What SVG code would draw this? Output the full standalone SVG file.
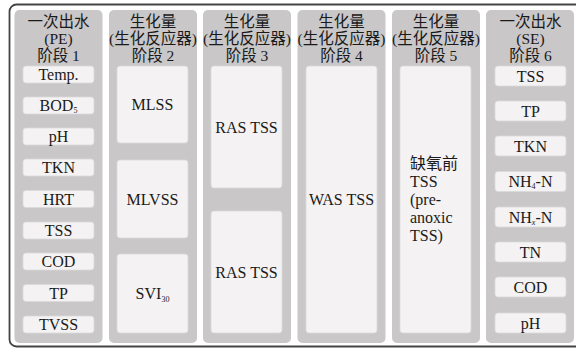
<svg xmlns="http://www.w3.org/2000/svg" width="576" height="349" viewBox="0 0 576 349">
<style>
.frame{fill:#fff;stroke:#454545;stroke-width:1.8}
.panel{fill:#c9c7c8}
.box{fill:#f4f2f3;stroke:#dcdadb;stroke-width:0.8}
text{fill:#1a1a1a;font-size:16px}
.h{font-size:15.5px;text-anchor:middle}
.c{text-anchor:middle}
.sub{font-size:8px}
.l{font-size:16px}
</style>
<rect class="frame" x="9.5" y="4.5" width="575" height="342" rx="7"/>
<g font-family="'Liberation Serif', 'Noto Sans CJK SC', serif">
<g id="stage1">
<rect class="panel" x="14.5" y="10" width="88" height="333" rx="5"/>
<text class="h" x="58.5" y="27">一次出水</text>
<text class="h" x="58.5" y="44">(PE)</text>
<text class="h" x="58.5" y="61">阶段 1</text>
<rect class="box" x="23" y="66" width="71" height="17" rx="3"/><text class="c" x="58.5" y="80">Temp.</text>
<rect class="box" x="23" y="97" width="71" height="17" rx="3"/><text class="c" x="58.5" y="111">BOD<tspan class="sub" dy="2">5</tspan></text>
<rect class="box" x="23" y="128" width="71" height="17" rx="3"/><text class="c" x="58.5" y="142">pH</text>
<rect class="box" x="23" y="159" width="71" height="17" rx="3"/><text class="c" x="58.5" y="173">TKN</text>
<rect class="box" x="23" y="190.5" width="71" height="17" rx="3"/><text class="c" x="58.5" y="204.5">HRT</text>
<rect class="box" x="23" y="222" width="71" height="17" rx="3"/><text class="c" x="58.5" y="236">TSS</text>
<rect class="box" x="23" y="253" width="71" height="17" rx="3"/><text class="c" x="58.5" y="267">COD</text>
<rect class="box" x="23" y="284.5" width="71" height="17" rx="3"/><text class="c" x="58.5" y="298.5">TP</text>
<rect class="box" x="23" y="316" width="71" height="17" rx="3"/><text class="c" x="58.5" y="330">TVSS</text>
</g>
<g id="stage2">
<rect class="panel" x="109" y="10" width="88" height="333" rx="5"/>
<text class="h" x="153" y="27">生化量</text>
<text class="h" x="153" y="44">(生化反应器)</text>
<text class="h" x="153" y="61">阶段 2</text>
<rect class="box" x="117" y="66" width="71" height="77" rx="3"/><text class="c" x="152.5" y="110">MLSS</text>
<rect class="box" x="117" y="160" width="71" height="78" rx="3"/><text class="c" x="152.5" y="205">MLVSS</text>
<rect class="box" x="117" y="254" width="71" height="79" rx="3"/><text class="c" x="152.5" y="299">SVI<tspan class="sub" dy="3">30</tspan></text>
</g>
<g id="stage3">
<rect class="panel" x="203" y="10" width="88" height="333" rx="5"/>
<text class="h" x="247" y="27">生化量</text>
<text class="h" x="247" y="44">(生化反应器)</text>
<text class="h" x="247" y="61">阶段 3</text>
<rect class="box" x="211" y="66" width="71" height="122" rx="3"/><text class="c" x="246.5" y="132.5">RAS TSS</text>
<rect class="box" x="211" y="211" width="71" height="122" rx="3"/><text class="c" x="246.5" y="277.5">RAS TSS</text>
</g>
<g id="stage4">
<rect class="panel" x="297.5" y="10" width="88" height="333" rx="5"/>
<text class="h" x="341.5" y="27">生化量</text>
<text class="h" x="341.5" y="44">(生化反应器)</text>
<text class="h" x="341.5" y="61">阶段 4</text>
<rect class="box" x="306" y="66" width="71" height="267" rx="3"/><text class="c" x="341.5" y="205">WAS TSS</text>
</g>
<g id="stage5">
<rect class="panel" x="392" y="10" width="88" height="333" rx="5"/>
<text class="h" x="436" y="27">生化量</text>
<text class="h" x="436" y="44">(生化反应器)</text>
<text class="h" x="436" y="61">阶段 5</text>
<rect class="box" x="400" y="66" width="71" height="267" rx="3"/>
<text class="l" x="410" y="169">缺氧前</text>
<text class="l" x="410" y="187">TSS</text>
<text class="l" x="410" y="205">(pre-</text>
<text class="l" x="410" y="223">anoxic</text>
<text class="l" x="410" y="241">TSS)</text>
</g>
<g id="stage6">
<rect class="panel" x="486" y="10" width="88" height="333" rx="5"/>
<text class="h" x="530.5" y="27">一次出水</text>
<text class="h" x="530.5" y="44">(SE)</text>
<text class="h" x="530.5" y="61">阶段 6</text>
<rect class="box" x="495" y="66" width="71" height="20" rx="3"/><text class="c" x="530.5" y="81.5">TSS</text>
<rect class="box" x="495" y="101" width="71" height="20" rx="3"/><text class="c" x="530.5" y="116.5">TP</text>
<rect class="box" x="495" y="136" width="71" height="20" rx="3"/><text class="c" x="530.5" y="151.5">TKN</text>
<rect class="box" x="495" y="171.5" width="71" height="20" rx="3"/><text class="c" x="530.5" y="187">NH<tspan class="sub" dy="2">4</tspan><tspan dy="-2">-N</tspan></text>
<rect class="box" x="495" y="207" width="71" height="20" rx="3"/><text class="c" x="530.5" y="222.5">NH<tspan class="sub" dy="2" font-style="italic">x</tspan><tspan dy="-2">-N</tspan></text>
<rect class="box" x="495" y="242" width="71" height="20" rx="3"/><text class="c" x="530.5" y="257.5">TN</text>
<rect class="box" x="495" y="277" width="71" height="20" rx="3"/><text class="c" x="530.5" y="292.5">COD</text>
<rect class="box" x="495" y="313" width="71" height="20" rx="3"/><text class="c" x="530.5" y="328.5">pH</text>
</g>
</g>
<g id="connectors"></g>
</svg>
